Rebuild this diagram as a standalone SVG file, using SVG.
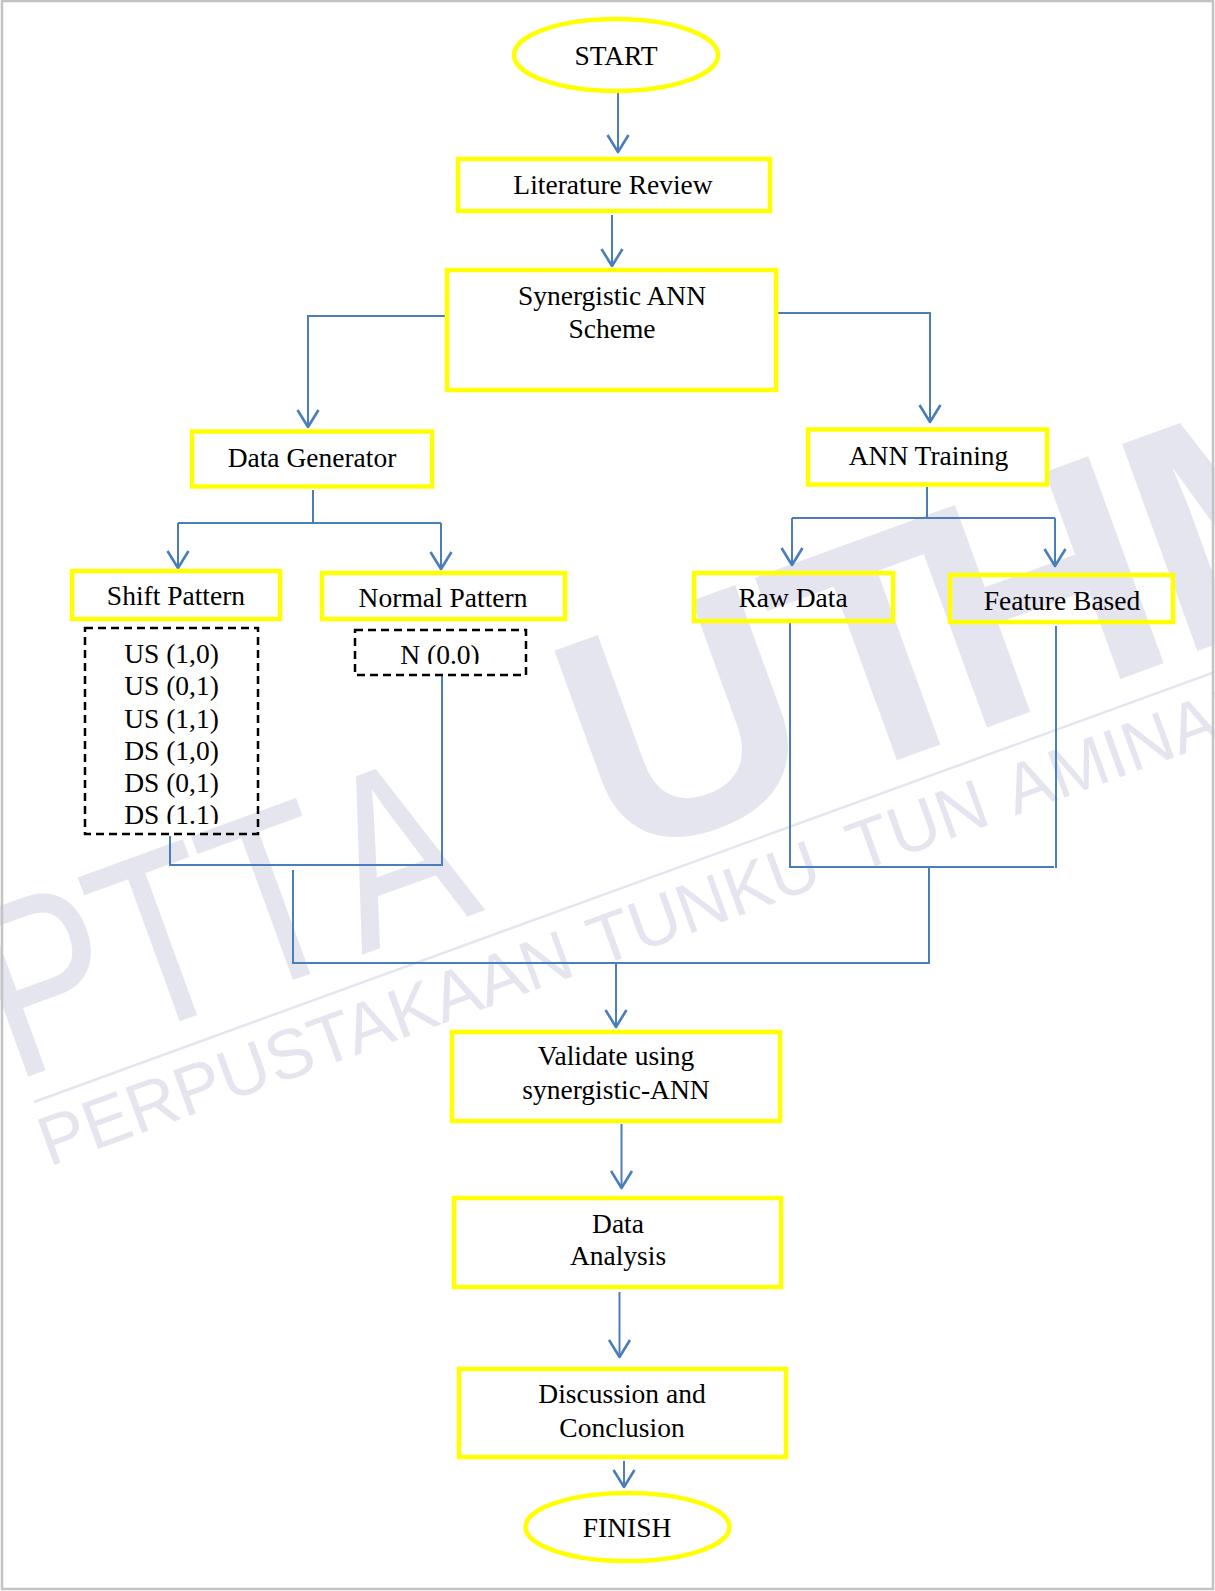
<svg xmlns="http://www.w3.org/2000/svg" width="1215" height="1591" viewBox="0 0 1215 1591">
  <style>
    .box { fill: none; stroke: #ffff00; stroke-width: 4.5; }
    .dash { fill: none; stroke: #000000; stroke-width: 2.5; stroke-dasharray: 8 5; }
    .lbl { font-family: "Liberation Serif", "Times New Roman", serif; font-size: 27.5px; fill: #000000; text-anchor: middle; }
    .wire { fill: none; stroke: #4a7ebb; stroke-width: 2; stroke-linecap: butt; }
    .arr { marker-end: url(#vhead); }
    .wm { font-family: "Liberation Sans", Arial, sans-serif; fill: #e5e5ef; }
  </style>
  <defs>
    <marker id="vhead" viewBox="0 0 24 24" refX="21" refY="12" markerWidth="24" markerHeight="24" markerUnits="userSpaceOnUse" orient="auto">
      <path d="M4 1.5 L21 12 L4 22.5" fill="none" stroke="#4a7ebb" stroke-width="2.6" stroke-linejoin="round"/>
    </marker>
    <clipPath id="clipShift"><rect x="80" y="620" width="185" height="204"/></clipPath>
    <clipPath id="clipNormal"><rect x="350" y="620" width="185" height="44"/></clipPath>
  </defs>

  <rect x="0" y="0" width="1215" height="1591" fill="#ffffff"/>

  <!-- library stamp in the background -->
  <g id="watermark">
    <g transform="translate(13 1082) rotate(-20)">
      <text class="wm" font-size="247" transform="scale(0.8 1)" x="0 158 308.6 464" y="0">PTTA</text>
      <text class="wm" font-size="320" font-weight="bold" x="637 866 1015 1239" y="0">UTHM</text>
    </g>
    <line x1="34" y1="1102" x2="1215" y2="672" stroke="#e5e5ef" stroke-width="2.5"/>
    <g transform="translate(49 1167) rotate(-20)">
      <text class="wm" font-size="70" y="0"><tspan x="0">PERPUSTAKAAN</tspan><tspan x="585">TUNKU</tspan><tspan x="861">TUN</tspan><tspan x="1028">AMINAH</tspan></text>
    </g>
  </g>

  <!-- page frame -->
  <rect x="2" y="1" width="1211" height="1588" fill="none" stroke="#c3c3c3" stroke-width="2.5"/>

  <!-- connectors -->
  <g id="connectors">
    <line class="wire arr" x1="618" y1="93" x2="618" y2="152"/>
    <line class="wire arr" x1="612" y1="215" x2="612" y2="266"/>
    <polyline class="wire arr" points="445,316 308,316 308,427"/>
    <polyline class="wire arr" points="778,313 930,313 930,422"/>

    <line class="wire" x1="313" y1="490" x2="313" y2="523"/>
    <line class="wire" x1="178" y1="523" x2="441" y2="523"/>
    <line class="wire arr" x1="178" y1="523" x2="178" y2="568"/>
    <line class="wire arr" x1="441" y1="523" x2="441" y2="569"/>

    <line class="wire" x1="927" y1="487" x2="927" y2="518"/>
    <line class="wire" x1="792" y1="518" x2="1055" y2="518"/>
    <line class="wire arr" x1="792" y1="518" x2="792" y2="565"/>
    <line class="wire arr" x1="1055" y1="518" x2="1055" y2="566"/>

    <polyline class="wire" points="170,836 170,865 443,865"/>
    <line class="wire" x1="442" y1="676" x2="442" y2="866"/>

    <polyline class="wire" points="790,623 790,867 1054,867"/>
    <line class="wire" x1="1056" y1="626" x2="1056" y2="868"/>

    <polyline class="wire" points="293,870 293,963 929,963 929,867"/>
    <line class="wire arr" x1="616" y1="963" x2="616" y2="1027"/>

    <line class="wire arr" x1="621.5" y1="1124" x2="621.5" y2="1188"/>
    <line class="wire arr" x1="619.5" y1="1292" x2="619.5" y2="1357"/>
    <line class="wire arr" x1="624" y1="1461" x2="624" y2="1487"/>
  </g>

  <!-- nodes -->
  <g id="start">
    <ellipse class="box" cx="616" cy="55" rx="102" ry="36"/>
    <text class="lbl" x="616" y="65">START</text>
  </g>
  <g id="literature-review">
    <rect class="box" x="458" y="159" width="312" height="52"/>
    <text class="lbl" x="613" y="194">Literature Review</text>
  </g>
  <g id="synergistic-scheme">
    <rect class="box" x="447" y="270" width="329" height="120"/>
    <text class="lbl" x="612" y="305">Synergistic ANN</text>
    <text class="lbl" x="612" y="338">Scheme</text>
  </g>
  <g id="data-generator">
    <rect class="box" x="192" y="431.5" width="240" height="55"/>
    <text class="lbl" x="312" y="467">Data Generator</text>
  </g>
  <g id="ann-training">
    <rect class="box" x="808" y="429.5" width="239" height="55"/>
    <text class="lbl" x="928.5" y="465">ANN Training</text>
  </g>
  <g id="shift-pattern">
    <rect class="box" x="72" y="571" width="208" height="48"/>
    <text class="lbl" x="176" y="605">Shift Pattern</text>
  </g>
  <g id="shift-cases">
    <rect class="dash" x="85" y="628" width="173" height="206"/>
    <g clip-path="url(#clipShift)">
      <text class="lbl" x="171.5" y="663">US (1,0)</text>
      <text class="lbl" x="171.5" y="695">US (0,1)</text>
      <text class="lbl" x="171.5" y="728">US (1,1)</text>
      <text class="lbl" x="171.5" y="760">DS (1,0)</text>
      <text class="lbl" x="171.5" y="792">DS (0,1)</text>
      <text class="lbl" x="171.5" y="823.5">DS (1.1)</text>
    </g>
  </g>
  <g id="normal-pattern">
    <rect class="box" x="322" y="573" width="243" height="46"/>
    <text class="lbl" x="443" y="607">Normal Pattern</text>
  </g>
  <g id="normal-case">
    <rect class="dash" x="355" y="630" width="171" height="45"/>
    <g clip-path="url(#clipNormal)">
      <text class="lbl" x="440" y="663.5">N (0.0)</text>
    </g>
  </g>
  <g id="raw-data">
    <rect class="box" x="694" y="573" width="199" height="48"/>
    <text class="lbl" x="793" y="607">Raw Data</text>
  </g>
  <g id="feature-based">
    <rect class="box" x="950" y="575" width="223" height="47"/>
    <text class="lbl" x="1062" y="610">Feature Based</text>
  </g>
  <g id="validate">
    <rect class="box" x="452" y="1032" width="328" height="89"/>
    <text class="lbl" x="616" y="1065">Validate using</text>
    <text class="lbl" x="616" y="1099">synergistic-ANN</text>
  </g>
  <g id="data-analysis">
    <rect class="box" x="454" y="1198" width="327" height="89"/>
    <text class="lbl" x="618" y="1233">Data</text>
    <text class="lbl" x="618" y="1265">Analysis</text>
  </g>
  <g id="discussion">
    <rect class="box" x="459" y="1369" width="327" height="88"/>
    <text class="lbl" x="622" y="1403">Discussion and</text>
    <text class="lbl" x="622" y="1437">Conclusion</text>
  </g>
  <g id="finish">
    <ellipse class="box" cx="627.5" cy="1527" rx="102" ry="34"/>
    <text class="lbl" x="627" y="1537">FINISH</text>
  </g>
</svg>
